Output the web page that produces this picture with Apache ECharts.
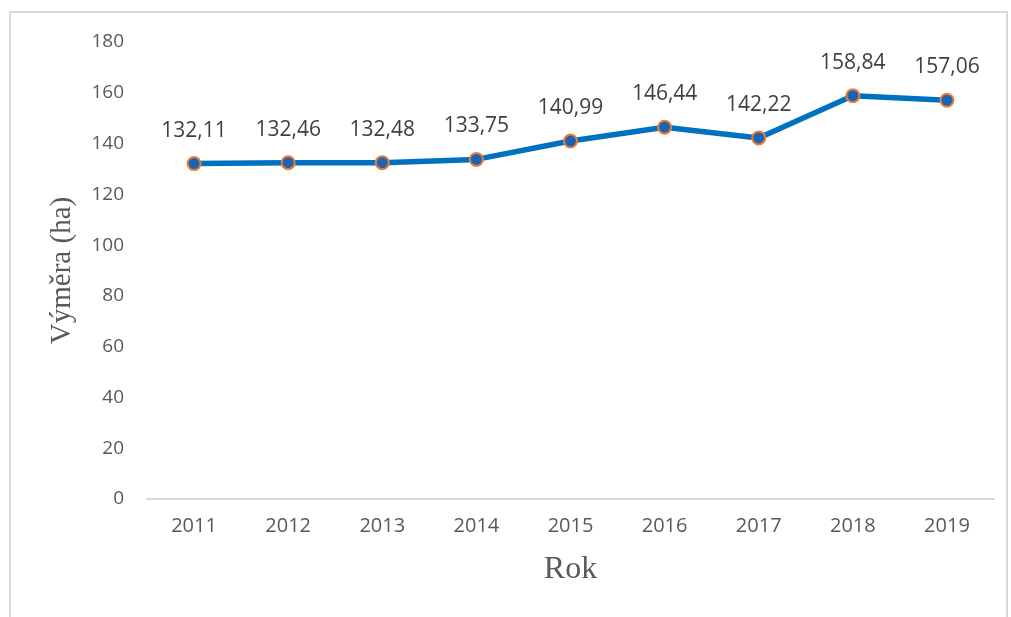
<!DOCTYPE html>
<html><head><meta charset="utf-8">
<script src="https://cdn.jsdelivr.net/npm/echarts@6/dist/echarts.min.js"></script>
<style>
html,body{margin:0;padding:0;background:#fff;}
#frame{position:absolute;left:9px;top:11px;width:999px;height:640px;border:2px solid #d9d9d9;box-sizing:border-box;}
#c{position:absolute;left:0;top:0;width:1011px;height:617px;}
</style></head>
<body><div id="frame"></div><div id="c"></div>
<script>
const years = ['2011','2012','2013','2014','2015','2016','2017','2018','2019'];
const values = [132.11,132.46,132.48,133.75,140.99,146.44,142.22,158.84,157.06];
const yTicks = [0,20,40,60,80,100,120,140,160,180];
const chart = echarts.init(document.getElementById('c'));
chart.setOption({
  animation:false,
  grid:{left:147,right:17,top:42,bottom:118,containLabel:false},
  xAxis:{type:'category',data:years,boundaryGap:true,
    name:'Rok',nameLocation:'middle',nameGap:55,
    nameTextStyle:{fontFamily:'Liberation Serif',fontSize:32,color:'#595959'},
    axisLine:{lineStyle:{color:'#d9d9d9',width:2}},axisTick:{show:false},
    axisLabel:{fontFamily:'Open Sans',fontSize:20,color:'#595959',margin:17}},
  yAxis:{type:'value',min:yTicks[0],max:yTicks[yTicks.length-1],interval:20,
    name:'Výměra (ha)',nameLocation:'middle',nameGap:70,nameRotate:90,
    nameTextStyle:{fontFamily:'Liberation Serif',fontSize:29,color:'#595959'},
    axisLine:{show:false},axisTick:{show:false},splitLine:{show:false},
    axisLabel:{fontFamily:'Open Sans',fontSize:19,color:'#595959',margin:23}},
  series:[{type:'line',data:values,
    lineStyle:{color:'#0070c0',width:5.5},
    symbol:'circle',symbolSize:13,
    itemStyle:{color:'#1a64b4',borderColor:'#ed7d31',borderWidth:2},
    label:{show:true,position:'top',distance:15,fontFamily:'Open Sans',fontSize:21,color:'#404040',
      formatter:p=>p.value.toFixed(2).replace('.',',')}}]
});
</script></body></html>
